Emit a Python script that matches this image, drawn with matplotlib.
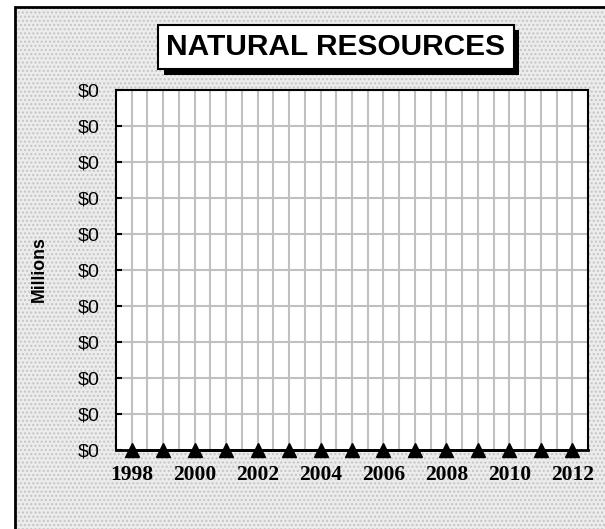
import matplotlib
matplotlib.use("Agg")
import matplotlib.pyplot as plt
import matplotlib.patheffects as pe
from matplotlib.patches import Rectangle
from matplotlib.ticker import FuncFormatter

# data
years = list(range(1998, 2013))
values = [0] * len(years)          # every point sits on $0
y_max = 0.4                        # axis top, all ticks round to $0
y_step = 0.04

fig = plt.figure(figsize=(6.05, 5.29), dpi=100)
fig.patch.set_facecolor("white")

# dotted grey backdrop with black frame (runs off the right/bottom edge)
bg = Rectangle((15 / 605, -0.05), 1.0, 1 - 7 / 529 + 0.05, transform=fig.transFigure,
               facecolor="#ececec", edgecolor="#c4c4c4", hatch="....", linewidth=0, zorder=-2)
fig.patches.append(bg)
frame = Rectangle((15 / 605, -0.05), 1.0, 1 - 7 / 529 + 0.05, transform=fig.transFigure,
                  facecolor="none", edgecolor="black", linewidth=2, zorder=-1)
fig.patches.append(frame)

ax = fig.add_axes([116 / 605, 1 - 450 / 529, 472 / 605, 360 / 529])
ax.set_zorder(2)
ax.set_facecolor("white")

x = list(range(len(years)))
ax.plot(x, values, color="black", linewidth=2, marker="^", markersize=10,
        markerfacecolor="black", markeredgecolor="black", clip_on=False, zorder=5)

ax.set_xlim(-0.5, len(years) - 0.5)
ax.set_ylim(0, y_max)

# grid
n_steps = int(round(y_max / y_step))
yt = [i * y_step for i in range(n_steps + 1)]
ax.set_yticks(yt)
ax.yaxis.set_major_formatter(FuncFormatter(lambda v, p: "${:,.0f}".format(v)))
for v in yt[1:-1]:
    ax.axhline(v, color="#c0c0c0", linewidth=1.5, zorder=1)
for i in range(2 * (len(years) - 1) + 1):
    ax.axvline(i * 0.5, color="#c0c0c0", linewidth=1.5, zorder=1)

ax.set_xticks(x[::2])
ax.set_xticklabels([str(y) for y in years[::2]], fontfamily="Liberation Serif",
                   fontweight="bold", fontsize=15.5)
ax.tick_params(axis="x", length=0, pad=11)
ax.tick_params(axis="y", direction="in", length=4, width=1.5, pad=12, labelsize=14)
for lab in ax.get_yticklabels():
    lab.set_fontfamily("Liberation Sans")

for s in ax.spines.values():
    s.set_linewidth(1.5)
    s.set_color("black")
ax.spines["bottom"].set_linewidth(2)

fig.text(39 / 605, 1 - 269 / 529, "Millions", rotation=90, ha="center", va="center",
         fontfamily="Liberation Sans", fontweight="bold", fontsize=12.8)

t = fig.text(336 / 605, 1 - 47 / 529, "NATURAL RESOURCES", ha="center", va="center",
             fontfamily="Liberation Sans", fontweight="bold", fontsize=21.5,
             bbox=dict(boxstyle="square,pad=0.27", facecolor="white", edgecolor="black", linewidth=1.5))
t.get_bbox_patch().set_path_effects([
    pe.withSimplePatchShadow(offset=(4, -4), shadow_rgbFace="black", alpha=1.0)])

fig.savefig("out.png", dpi=100)
